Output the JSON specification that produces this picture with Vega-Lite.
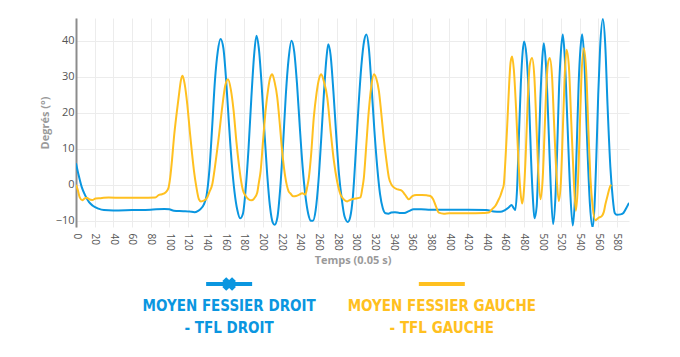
{
  "$schema": "https://vega.github.io/schema/vega-lite/v6.json",
  "padding": {"left": 39, "top": 18, "right": 5, "bottom": 5},
  "background": "white",
  "spacing": 7,
  "config": {"view": {"stroke": null}},
  "datasets": {
    "courbes": [
      {"t": 0, "deg": 6, "serie": "droit"},
      {"t": 3, "deg": 2.5, "serie": "droit"},
      {"t": 6, "deg": -0.5, "serie": "droit"},
      {"t": 10, "deg": -3, "serie": "droit"},
      {"t": 14, "deg": -4.8, "serie": "droit"},
      {"t": 18, "deg": -5.8, "serie": "droit"},
      {"t": 24, "deg": -6.6, "serie": "droit"},
      {"t": 30, "deg": -7, "serie": "droit"},
      {"t": 40, "deg": -7.1, "serie": "droit"},
      {"t": 60, "deg": -7, "serie": "droit"},
      {"t": 80, "deg": -6.9, "serie": "droit"},
      {"t": 95, "deg": -6.7, "serie": "droit"},
      {"t": 100, "deg": -6.8, "serie": "droit"},
      {"t": 105, "deg": -7.2, "serie": "droit"},
      {"t": 115, "deg": -7.3, "serie": "droit"},
      {"t": 122, "deg": -7.4, "serie": "droit"},
      {"t": 127, "deg": -7.6, "serie": "droit"},
      {"t": 131, "deg": -7.2, "serie": "droit"},
      {"t": 134, "deg": -6.6, "serie": "droit"},
      {"t": 137, "deg": -5.5, "serie": "droit"},
      {"t": 140, "deg": -3, "serie": "droit"},
      {"t": 143, "deg": 4, "serie": "droit"},
      {"t": 146, "deg": 16, "serie": "droit"},
      {"t": 149, "deg": 29, "serie": "droit"},
      {"t": 152, "deg": 37, "serie": "droit"},
      {"t": 155, "deg": 40.5, "serie": "droit"},
      {"t": 158, "deg": 38, "serie": "droit"},
      {"t": 161, "deg": 29, "serie": "droit"},
      {"t": 164, "deg": 17, "serie": "droit"},
      {"t": 167, "deg": 6, "serie": "droit"},
      {"t": 170, "deg": -2, "serie": "droit"},
      {"t": 173, "deg": -7, "serie": "droit"},
      {"t": 176, "deg": -9.3, "serie": "droit"},
      {"t": 179, "deg": -8, "serie": "droit"},
      {"t": 182, "deg": -1, "serie": "droit"},
      {"t": 185, "deg": 10, "serie": "droit"},
      {"t": 188, "deg": 24, "serie": "droit"},
      {"t": 191, "deg": 36, "serie": "droit"},
      {"t": 193.5, "deg": 41.4, "serie": "droit"},
      {"t": 196, "deg": 38, "serie": "droit"},
      {"t": 199, "deg": 28, "serie": "droit"},
      {"t": 202, "deg": 15, "serie": "droit"},
      {"t": 205, "deg": 3, "serie": "droit"},
      {"t": 208, "deg": -6, "serie": "droit"},
      {"t": 211, "deg": -10.5, "serie": "droit"},
      {"t": 213, "deg": -11.1, "serie": "droit"},
      {"t": 216, "deg": -9, "serie": "droit"},
      {"t": 219, "deg": -1, "serie": "droit"},
      {"t": 222, "deg": 11, "serie": "droit"},
      {"t": 225, "deg": 25, "serie": "droit"},
      {"t": 228, "deg": 35, "serie": "droit"},
      {"t": 231, "deg": 40, "serie": "droit"},
      {"t": 234, "deg": 37, "serie": "droit"},
      {"t": 237, "deg": 28, "serie": "droit"},
      {"t": 240, "deg": 16, "serie": "droit"},
      {"t": 243, "deg": 5, "serie": "droit"},
      {"t": 246, "deg": -3, "serie": "droit"},
      {"t": 249, "deg": -8, "serie": "droit"},
      {"t": 252, "deg": -10, "serie": "droit"},
      {"t": 254, "deg": -10, "serie": "droit"},
      {"t": 257, "deg": -7, "serie": "droit"},
      {"t": 260, "deg": 1, "serie": "droit"},
      {"t": 263, "deg": 13, "serie": "droit"},
      {"t": 266, "deg": 26, "serie": "droit"},
      {"t": 268.5, "deg": 35, "serie": "droit"},
      {"t": 270.5, "deg": 39, "serie": "droit"},
      {"t": 273, "deg": 36, "serie": "droit"},
      {"t": 276, "deg": 26, "serie": "droit"},
      {"t": 279, "deg": 14, "serie": "droit"},
      {"t": 282, "deg": 3, "serie": "droit"},
      {"t": 285, "deg": -4, "serie": "droit"},
      {"t": 288, "deg": -8.8, "serie": "droit"},
      {"t": 291.5, "deg": -10.3, "serie": "droit"},
      {"t": 294, "deg": -9, "serie": "droit"},
      {"t": 297, "deg": -3, "serie": "droit"},
      {"t": 300, "deg": 9, "serie": "droit"},
      {"t": 303, "deg": 22, "serie": "droit"},
      {"t": 306, "deg": 33, "serie": "droit"},
      {"t": 309, "deg": 40, "serie": "droit"},
      {"t": 311.5, "deg": 41.7, "serie": "droit"},
      {"t": 314, "deg": 38, "serie": "droit"},
      {"t": 317, "deg": 27, "serie": "droit"},
      {"t": 320, "deg": 15, "serie": "droit"},
      {"t": 323, "deg": 5, "serie": "droit"},
      {"t": 326, "deg": -2.5, "serie": "droit"},
      {"t": 329, "deg": -6.5, "serie": "droit"},
      {"t": 332, "deg": -7.9, "serie": "droit"},
      {"t": 335, "deg": -8, "serie": "droit"},
      {"t": 338, "deg": -7.7, "serie": "droit"},
      {"t": 342, "deg": -7.6, "serie": "droit"},
      {"t": 347, "deg": -7.8, "serie": "droit"},
      {"t": 352, "deg": -7.8, "serie": "droit"},
      {"t": 357, "deg": -7.3, "serie": "droit"},
      {"t": 362, "deg": -6.8, "serie": "droit"},
      {"t": 370, "deg": -6.8, "serie": "droit"},
      {"t": 380, "deg": -6.9, "serie": "droit"},
      {"t": 400, "deg": -6.9, "serie": "droit"},
      {"t": 420, "deg": -6.9, "serie": "droit"},
      {"t": 440, "deg": -7, "serie": "droit"},
      {"t": 448, "deg": -7.4, "serie": "droit"},
      {"t": 455, "deg": -7.5, "serie": "droit"},
      {"t": 460, "deg": -7, "serie": "droit"},
      {"t": 464, "deg": -6.3, "serie": "droit"},
      {"t": 467, "deg": -5.6, "serie": "droit"},
      {"t": 469, "deg": -6.3, "serie": "droit"},
      {"t": 471, "deg": -7, "serie": "droit"},
      {"t": 473, "deg": -1, "serie": "droit"},
      {"t": 475, "deg": 14, "serie": "droit"},
      {"t": 477, "deg": 28, "serie": "droit"},
      {"t": 479, "deg": 37, "serie": "droit"},
      {"t": 480.5, "deg": 39.8, "serie": "droit"},
      {"t": 483, "deg": 36, "serie": "droit"},
      {"t": 486, "deg": 22, "serie": "droit"},
      {"t": 488, "deg": 7, "serie": "droit"},
      {"t": 490, "deg": -4, "serie": "droit"},
      {"t": 491.6, "deg": -9.3, "serie": "droit"},
      {"t": 494, "deg": -6, "serie": "droit"},
      {"t": 496, "deg": 8, "serie": "droit"},
      {"t": 498, "deg": 24, "serie": "droit"},
      {"t": 500, "deg": 35, "serie": "droit"},
      {"t": 501.6, "deg": 39.3, "serie": "droit"},
      {"t": 504, "deg": 33, "serie": "droit"},
      {"t": 507, "deg": 14, "serie": "droit"},
      {"t": 509, "deg": 0, "serie": "droit"},
      {"t": 511.6, "deg": -10.9, "serie": "droit"},
      {"t": 514, "deg": -4, "serie": "droit"},
      {"t": 516, "deg": 10, "serie": "droit"},
      {"t": 518, "deg": 27, "serie": "droit"},
      {"t": 520, "deg": 37, "serie": "droit"},
      {"t": 522, "deg": 41.7, "serie": "droit"},
      {"t": 524, "deg": 36, "serie": "droit"},
      {"t": 527, "deg": 17, "serie": "droit"},
      {"t": 530, "deg": -2, "serie": "droit"},
      {"t": 532.7, "deg": -11.3, "serie": "droit"},
      {"t": 535, "deg": -4, "serie": "droit"},
      {"t": 537, "deg": 11, "serie": "droit"},
      {"t": 539, "deg": 28, "serie": "droit"},
      {"t": 541, "deg": 38, "serie": "droit"},
      {"t": 542.7, "deg": 41.8, "serie": "droit"},
      {"t": 545, "deg": 35, "serie": "droit"},
      {"t": 548, "deg": 13, "serie": "droit"},
      {"t": 551, "deg": -5, "serie": "droit"},
      {"t": 554, "deg": -11.9, "serie": "droit"},
      {"t": 556, "deg": -6, "serie": "droit"},
      {"t": 558, "deg": 8, "serie": "droit"},
      {"t": 560, "deg": 25, "serie": "droit"},
      {"t": 562, "deg": 38, "serie": "droit"},
      {"t": 565, "deg": 46, "serie": "droit"},
      {"t": 567.5, "deg": 39, "serie": "droit"},
      {"t": 570, "deg": 22, "serie": "droit"},
      {"t": 573, "deg": 5, "serie": "droit"},
      {"t": 575.5, "deg": -3.5, "serie": "droit"},
      {"t": 577.7, "deg": -7.8, "serie": "droit"},
      {"t": 580, "deg": -8.3, "serie": "droit"},
      {"t": 584, "deg": -8.2, "serie": "droit"},
      {"t": 587, "deg": -7.8, "serie": "droit"},
      {"t": 590, "deg": -6.5, "serie": "droit"},
      {"t": 593, "deg": -5, "serie": "droit"},
      {"t": 0, "deg": 0, "serie": "gauche"},
      {"t": 2, "deg": -1.5, "serie": "gauche"},
      {"t": 4, "deg": -3.5, "serie": "gauche"},
      {"t": 6.8, "deg": -4.3, "serie": "gauche"},
      {"t": 9, "deg": -3.8, "serie": "gauche"},
      {"t": 11.6, "deg": -3.6, "serie": "gauche"},
      {"t": 14, "deg": -4, "serie": "gauche"},
      {"t": 17.5, "deg": -4.2, "serie": "gauche"},
      {"t": 21, "deg": -3.8, "serie": "gauche"},
      {"t": 26.5, "deg": -3.7, "serie": "gauche"},
      {"t": 35, "deg": -3.5, "serie": "gauche"},
      {"t": 50, "deg": -3.6, "serie": "gauche"},
      {"t": 70, "deg": -3.6, "serie": "gauche"},
      {"t": 85, "deg": -3.5, "serie": "gauche"},
      {"t": 89, "deg": -2.8, "serie": "gauche"},
      {"t": 92, "deg": -2.6, "serie": "gauche"},
      {"t": 96, "deg": -2.1, "serie": "gauche"},
      {"t": 99, "deg": -1, "serie": "gauche"},
      {"t": 101, "deg": 2, "serie": "gauche"},
      {"t": 103, "deg": 7, "serie": "gauche"},
      {"t": 105, "deg": 13, "serie": "gauche"},
      {"t": 108, "deg": 20, "serie": "gauche"},
      {"t": 110.4, "deg": 25, "serie": "gauche"},
      {"t": 112.5, "deg": 29, "serie": "gauche"},
      {"t": 114.3, "deg": 30.3, "serie": "gauche"},
      {"t": 116.5, "deg": 28, "serie": "gauche"},
      {"t": 119.3, "deg": 22.4, "serie": "gauche"},
      {"t": 122, "deg": 15, "serie": "gauche"},
      {"t": 124.5, "deg": 8.5, "serie": "gauche"},
      {"t": 126.5, "deg": 3.9, "serie": "gauche"},
      {"t": 129, "deg": -0.5, "serie": "gauche"},
      {"t": 131.8, "deg": -4, "serie": "gauche"},
      {"t": 134, "deg": -4.6, "serie": "gauche"},
      {"t": 137, "deg": -4.4, "serie": "gauche"},
      {"t": 140.7, "deg": -3.5, "serie": "gauche"},
      {"t": 143, "deg": -2, "serie": "gauche"},
      {"t": 146, "deg": 0, "serie": "gauche"},
      {"t": 149, "deg": 5, "serie": "gauche"},
      {"t": 153, "deg": 13, "serie": "gauche"},
      {"t": 157, "deg": 22, "serie": "gauche"},
      {"t": 160, "deg": 27.5, "serie": "gauche"},
      {"t": 163, "deg": 29.3, "serie": "gauche"},
      {"t": 166, "deg": 26.5, "serie": "gauche"},
      {"t": 169, "deg": 20.6, "serie": "gauche"},
      {"t": 172, "deg": 12, "serie": "gauche"},
      {"t": 174.5, "deg": 6, "serie": "gauche"},
      {"t": 176.5, "deg": 2, "serie": "gauche"},
      {"t": 179, "deg": -1.5, "serie": "gauche"},
      {"t": 182, "deg": -3.1, "serie": "gauche"},
      {"t": 185, "deg": -4, "serie": "gauche"},
      {"t": 188, "deg": -4.3, "serie": "gauche"},
      {"t": 191, "deg": -3.8, "serie": "gauche"},
      {"t": 194.3, "deg": -2.2, "serie": "gauche"},
      {"t": 196, "deg": 0.5, "serie": "gauche"},
      {"t": 198, "deg": 3.9, "serie": "gauche"},
      {"t": 200.5, "deg": 12, "serie": "gauche"},
      {"t": 203.3, "deg": 20.6, "serie": "gauche"},
      {"t": 206, "deg": 26.5, "serie": "gauche"},
      {"t": 208, "deg": 29.5, "serie": "gauche"},
      {"t": 210.4, "deg": 30.7, "serie": "gauche"},
      {"t": 213, "deg": 28.5, "serie": "gauche"},
      {"t": 215.8, "deg": 24.3, "serie": "gauche"},
      {"t": 218.5, "deg": 17, "serie": "gauche"},
      {"t": 221, "deg": 9.5, "serie": "gauche"},
      {"t": 223, "deg": 4.8, "serie": "gauche"},
      {"t": 226, "deg": 0, "serie": "gauche"},
      {"t": 228, "deg": -1.8, "serie": "gauche"},
      {"t": 230, "deg": -2.4, "serie": "gauche"},
      {"t": 233, "deg": -3.2, "serie": "gauche"},
      {"t": 236, "deg": -3.1, "serie": "gauche"},
      {"t": 239, "deg": -2.8, "serie": "gauche"},
      {"t": 242.6, "deg": -2.3, "serie": "gauche"},
      {"t": 246, "deg": -2.7, "serie": "gauche"},
      {"t": 248, "deg": -0.5, "serie": "gauche"},
      {"t": 249.7, "deg": 2, "serie": "gauche"},
      {"t": 252, "deg": 8, "serie": "gauche"},
      {"t": 255, "deg": 18.7, "serie": "gauche"},
      {"t": 258, "deg": 25.5, "serie": "gauche"},
      {"t": 260.5, "deg": 29.3, "serie": "gauche"},
      {"t": 263, "deg": 30.7, "serie": "gauche"},
      {"t": 266, "deg": 28.5, "serie": "gauche"},
      {"t": 269.4, "deg": 24.3, "serie": "gauche"},
      {"t": 273, "deg": 15, "serie": "gauche"},
      {"t": 276.5, "deg": 6.7, "serie": "gauche"},
      {"t": 280, "deg": 1, "serie": "gauche"},
      {"t": 283.7, "deg": -2.7, "serie": "gauche"},
      {"t": 287, "deg": -4, "serie": "gauche"},
      {"t": 290.8, "deg": -4.6, "serie": "gauche"},
      {"t": 293, "deg": -4.3, "serie": "gauche"},
      {"t": 296, "deg": -4, "serie": "gauche"},
      {"t": 300, "deg": -3.8, "serie": "gauche"},
      {"t": 305, "deg": -3.5, "serie": "gauche"},
      {"t": 307, "deg": -1, "serie": "gauche"},
      {"t": 308.7, "deg": 2, "serie": "gauche"},
      {"t": 311, "deg": 10, "serie": "gauche"},
      {"t": 314, "deg": 20.6, "serie": "gauche"},
      {"t": 316.5, "deg": 27, "serie": "gauche"},
      {"t": 319.4, "deg": 30.7, "serie": "gauche"},
      {"t": 322, "deg": 29.5, "serie": "gauche"},
      {"t": 324.8, "deg": 26.1, "serie": "gauche"},
      {"t": 327.5, "deg": 19.5, "serie": "gauche"},
      {"t": 330, "deg": 13, "serie": "gauche"},
      {"t": 333, "deg": 6.5, "serie": "gauche"},
      {"t": 335.5, "deg": 2, "serie": "gauche"},
      {"t": 338, "deg": 0.2, "serie": "gauche"},
      {"t": 340.8, "deg": -0.7, "serie": "gauche"},
      {"t": 344, "deg": -1.2, "serie": "gauche"},
      {"t": 347, "deg": -1.4, "serie": "gauche"},
      {"t": 349.7, "deg": -1.7, "serie": "gauche"},
      {"t": 353, "deg": -2.8, "serie": "gauche"},
      {"t": 357, "deg": -4, "serie": "gauche"},
      {"t": 360.6, "deg": -3.1, "serie": "gauche"},
      {"t": 365, "deg": -2.8, "serie": "gauche"},
      {"t": 371, "deg": -2.8, "serie": "gauche"},
      {"t": 376, "deg": -2.9, "serie": "gauche"},
      {"t": 380, "deg": -3.1, "serie": "gauche"},
      {"t": 383, "deg": -4, "serie": "gauche"},
      {"t": 386, "deg": -6, "serie": "gauche"},
      {"t": 389, "deg": -7.7, "serie": "gauche"},
      {"t": 394.5, "deg": -8, "serie": "gauche"},
      {"t": 400, "deg": -7.9, "serie": "gauche"},
      {"t": 420, "deg": -7.9, "serie": "gauche"},
      {"t": 437, "deg": -7.8, "serie": "gauche"},
      {"t": 442.6, "deg": -7.7, "serie": "gauche"},
      {"t": 446, "deg": -6.8, "serie": "gauche"},
      {"t": 449.8, "deg": -5.8, "serie": "gauche"},
      {"t": 453, "deg": -4.2, "serie": "gauche"},
      {"t": 455, "deg": -3.1, "serie": "gauche"},
      {"t": 457, "deg": -1.5, "serie": "gauche"},
      {"t": 458.7, "deg": 0, "serie": "gauche"},
      {"t": 460.5, "deg": 7, "serie": "gauche"},
      {"t": 462.3, "deg": 15.9, "serie": "gauche"},
      {"t": 464.5, "deg": 28, "serie": "gauche"},
      {"t": 466, "deg": 34, "serie": "gauche"},
      {"t": 467.6, "deg": 35.6, "serie": "gauche"},
      {"t": 469.5, "deg": 32, "serie": "gauche"},
      {"t": 472, "deg": 20.6, "serie": "gauche"},
      {"t": 474, "deg": 9, "serie": "gauche"},
      {"t": 476, "deg": 0, "serie": "gauche"},
      {"t": 478.4, "deg": -5.2, "serie": "gauche"},
      {"t": 480.5, "deg": -1, "serie": "gauche"},
      {"t": 482.5, "deg": 10, "serie": "gauche"},
      {"t": 484.5, "deg": 24, "serie": "gauche"},
      {"t": 486.5, "deg": 33, "serie": "gauche"},
      {"t": 489, "deg": 35.2, "serie": "gauche"},
      {"t": 491.5, "deg": 30, "serie": "gauche"},
      {"t": 493.5, "deg": 18, "serie": "gauche"},
      {"t": 495.5, "deg": 5, "serie": "gauche"},
      {"t": 498, "deg": -4, "serie": "gauche"},
      {"t": 500.5, "deg": 2, "serie": "gauche"},
      {"t": 502.5, "deg": 15, "serie": "gauche"},
      {"t": 504.5, "deg": 28, "serie": "gauche"},
      {"t": 506, "deg": 33.5, "serie": "gauche"},
      {"t": 508, "deg": 35.2, "serie": "gauche"},
      {"t": 510.5, "deg": 30, "serie": "gauche"},
      {"t": 512.5, "deg": 18, "serie": "gauche"},
      {"t": 515, "deg": 4, "serie": "gauche"},
      {"t": 517.7, "deg": -4.5, "serie": "gauche"},
      {"t": 520, "deg": 1, "serie": "gauche"},
      {"t": 522, "deg": 15, "serie": "gauche"},
      {"t": 524, "deg": 30, "serie": "gauche"},
      {"t": 526, "deg": 37.5, "serie": "gauche"},
      {"t": 528.5, "deg": 33, "serie": "gauche"},
      {"t": 531, "deg": 18, "serie": "gauche"},
      {"t": 533.5, "deg": 3, "serie": "gauche"},
      {"t": 536, "deg": -7.2, "serie": "gauche"},
      {"t": 538, "deg": -1, "serie": "gauche"},
      {"t": 540, "deg": 14, "serie": "gauche"},
      {"t": 542, "deg": 30, "serie": "gauche"},
      {"t": 544.5, "deg": 37.9, "serie": "gauche"},
      {"t": 547, "deg": 32, "serie": "gauche"},
      {"t": 549.5, "deg": 15, "serie": "gauche"},
      {"t": 551.6, "deg": 2, "serie": "gauche"},
      {"t": 554, "deg": -6, "serie": "gauche"},
      {"t": 557, "deg": -9.8, "serie": "gauche"},
      {"t": 560, "deg": -9.2, "serie": "gauche"},
      {"t": 564, "deg": -8.6, "serie": "gauche"},
      {"t": 566, "deg": -7.5, "serie": "gauche"},
      {"t": 567.7, "deg": -5.4, "serie": "gauche"},
      {"t": 570, "deg": -3, "serie": "gauche"},
      {"t": 573, "deg": -0.3, "serie": "gauche"},
      {"t": 574, "deg": 0, "serie": "gauche"}
    ],
    "legende": [
      {"serie": "droit", "ligne": 0, "texte": ""},
      {"serie": "droit", "ligne": 1, "texte": "MOYEN FESSIER DROIT"},
      {"serie": "droit", "ligne": 2, "texte": "- TFL DROIT"},
      {"serie": "gauche", "ligne": 0, "texte": ""},
      {"serie": "gauche", "ligne": 1, "texte": "MOYEN FESSIER GAUCHE"},
      {"serie": "gauche", "ligne": 2, "texte": "- TFL GAUCHE"}
    ]
  },
  "vconcat": [
    {
      "width": 553,
      "height": 209,
      "layer": [
        {
          "mark": {"type": "rule", "color": "#8c8c8c", "strokeWidth": 2},
          "encoding": {"y": {"datum": 0, "type": "quantitative"}}
        },
        {
          "data": {"name": "courbes"},
          "mark": {"type": "line", "strokeWidth": 2, "interpolate": "monotone", "clip": true},
          "encoding": {
            "x": {
              "field": "t", "type": "quantitative",
              "scale": {"domain": [0, 593], "nice": false, "zero": false},
              "axis": {
                "values": [0,20,40,60,80,100,120,140,160,180,200,220,240,260,280,300,320,340,360,380,400,420,440,460,480,500,520,540,560,580],
                "title": "Temps (0.05 s)",
                "labelAngle": 90,
                "labelFont": "Open Sans", "labelFontSize": 10, "labelColor": "#555",
                "labelPadding": 6,
                "ticks": false, "domain": false,
                "grid": true, "gridColor": "#ececec", "gridWidth": 1,
                "titleFont": "Open Sans", "titleFontSize": 11, "titleFontWeight": "bold", "titleColor": "#9a9a9a", "titlePadding": 4
              }
            },
            "y": {
              "field": "deg", "type": "quantitative",
              "scale": {"domain": [-11.7, 46.3], "nice": false, "zero": false},
              "axis": {
                "values": [-10, 0, 10, 20, 30, 40],
                "title": "Degrés (°)",
                "labelFont": "Open Sans", "labelFontSize": 11, "labelColor": "#555",
                "labelPadding": 2,
                "ticks": false,
                "domain": true, "domainColor": "#8c8c8c", "domainWidth": 2,
                "grid": true, "gridColor": "#ececec", "gridWidth": 1,
                "titleFont": "Open Sans", "titleFontSize": 11, "titleFontWeight": "bold", "titleColor": "#9a9a9a", "titlePadding": 5
              }
            },
            "color": {
              "field": "serie", "type": "nominal",
              "scale": {"domain": ["droit", "gauche"], "range": ["#0a96e0", "#ffc020"]},
              "legend": null
            },
            "order": {"field": "t", "type": "quantitative"}
          }
        }
      ]
    },
    {
      "width": 553,
      "height": 66,
      "data": {"name": "legende"},
      "encoding": {
        "x": {"field": "serie", "type": "nominal", "scale": {"type": "point", "domain": ["droit", "gauche"], "padding": 0.8, "align": 0.45}, "axis": null},
        "y": {"field": "ligne", "type": "ordinal", "scale": {"type": "point", "padding": 0.5}, "axis": null},
        "color": {"field": "serie", "type": "nominal", "scale": {"domain": ["droit", "gauche"], "range": ["#0a96e0", "#ffc020"]}, "legend": null}
      },
      "layer": [
        {
          "transform": [{"filter": "datum.ligne == 0"}],
          "mark": {"type": "tick", "orient": "horizontal", "size": 46, "thickness": 4, "opacity": 1}
        },
        {
          "transform": [{"filter": "datum.ligne == 0 && datum.serie == 'droit'"}],
          "mark": {"type": "point", "shape": "cross", "angle": 45, "filled": true, "size": 190, "opacity": 1}
        },
        {
          "transform": [{"filter": "datum.ligne > 0"}],
          "mark": {"type": "text", "font": "DejaVu Sans Condensed", "fontWeight": "bold", "fontSize": 15, "align": "center", "baseline": "middle"},
          "encoding": {"text": {"field": "texte"}}
        }
      ]
    }
  ]
}
